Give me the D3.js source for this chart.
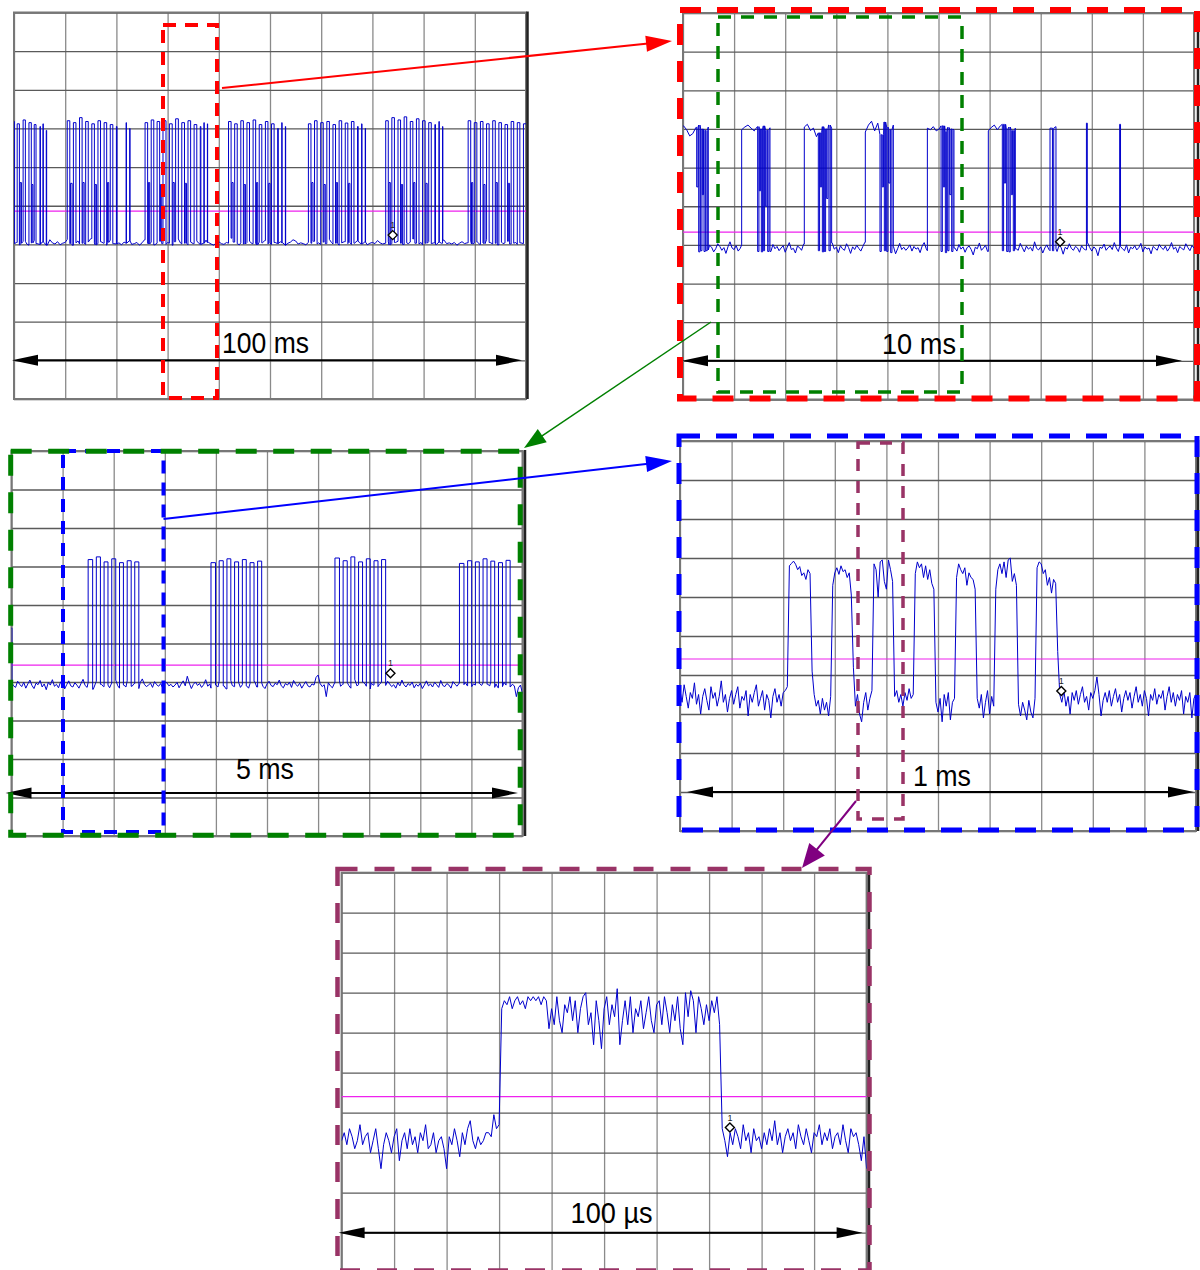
<!DOCTYPE html>
<html>
<head>
<meta charset="utf-8">
<script src="https://cdn.jsdelivr.net/npm/d3@7"></script>
<style>
  html, body { margin: 0; padding: 0; background: #fff; }
  svg { display: block; }
</style>
</head>
<body>
<svg id="chart" width="1200" height="1270"></svg>
<script>
// ---------------------------------------------------------------
// Scope captures of one burst train, zoomed five times.
// Vertical values are in screen divisions counted from the bottom.
// ---------------------------------------------------------------
const spanLabels = ["100 ms", "10 ms", "5 ms", "1 ms", "100 µs"];
const spanDurations = [100, 10, 5, 1000, 100];          // ms, ms, ms, µs, µs
const triggerLevels = [4.86, 4.33, 4.44, 4.41, 4.4];
const markerPoints = [[73.97, 4.24], [7.38, 4.08], [3.708, 4.23], [739, 3.59], [73.96, 3.63]];

// 100 ms capture: idle level (0.5 ms steps) and burst envelopes [start, end, top]
const p1Baseline = [
  4.02,4.05,3.99,4.03,4.08,4.01,3.98,4.04,4.10,4.02,
  4.00,4.06,4.03,3.98,4.12,4.04,4.01,4.07,3.99,4.03,
  4.05,4.13,4.02,3.98,4.04,4.09,4.01,4.03,4.00,4.06,
  4.15,4.04,3.99,4.02,4.07,4.03,3.98,4.05,4.11,4.02,
  4.01,4.04,3.99,4.06,4.03,4.09,4.00,4.02,4.05,3.98,
  4.04,4.12,4.03,4.01,4.06,3.99,4.03,4.08,4.02,4.00,
  4.05,4.03,3.98,4.07,4.14,4.04,4.01,4.03,3.99,4.06,
  4.02,4.09,4.04,4.00,4.03,4.11,4.05,4.01,3.98,4.04,
  4.07,4.02,4.00,4.05,4.03,4.16,4.06,4.02,3.99,4.04,
  4.01,4.05,4.08,4.02,4.03,3.99,4.06,4.04,4.10,4.01,
  4.03,4.00,4.05,4.02,4.07,4.04,3.98,4.03,4.06,4.12,
  4.09,4.01,4.04,4.02,3.99,4.05,4.03,4.08,4.01,4.04,
  4.00,4.06,4.02,4.13,4.05,4.01,4.03,3.98,4.04,4.07,
  4.02,4.05,4.00,4.03,4.09,4.04,4.01,4.06,3.99,4.03,
  4.05,4.02,4.10,4.04,4.01,4.03,4.07,3.99,4.02,4.05,
  4.08,4.03,4.00,4.04,4.02,4.06,4.14,4.03,4.01,4.05,
  3.99,4.03,4.07,4.02,4.04,4.00,4.06,4.03,4.11,4.02,
  4.04,4.01,4.05,3.98,4.03,4.07,4.02,4.04,4.09,4.01,
  4.03,4.06,4.00,4.04,4.02,4.12,4.05,4.01,4.03,3.99,
  4.06,4.02,4.04,4.08,4.01,4.03,4.05,4.00,4.04,4.02,
  4.03
];
const p1Bursts = [
  [-0.4,0.08,7.18],[0.62,1.05,7.12],[1.78,2.22,7.22],[2.92,3.38,7.15],[3.95,4.3,7.1],
  [5.08,5.16,7.05],[5.66,5.72,7.12],[6.3,6.38,6.95],
  [10.4,10.9,7.2],[11.6,12.1,7.15],[12.8,13.3,7.28],[14.0,14.5,7.18],[15.2,15.7,7.12],
  [16.4,16.9,7.2],[17.6,18.1,7.15],[18.8,19.3,7.1],[20.0,20.12,7.05],[21.9,21.96,7.15],[22.6,22.66,7.0],
  [25.6,26.1,7.15],[26.8,27.3,7.22],[27.95,28.45,7.18],[29.1,29.69,7.2],[30.35,30.9,7.12],
  [31.57,32.1,7.25],[32.77,33.3,7.15],[33.98,34.5,7.2],[35.18,35.7,7.1],[36.38,36.5,7.05],
  [37.1,37.15,7.15],[37.77,37.82,7.12],
  [41.9,42.4,7.18],[43.1,43.6,7.12],[44.3,44.8,7.2],[45.5,46.0,7.15],[46.7,47.2,7.22],
  [47.9,48.4,7.1],[49.1,49.6,7.18],[50.3,50.8,7.12],[51.5,51.62,7.0],[52.3,52.36,7.15],[53.0,53.06,7.05],
  [57.5,58.0,7.12],[58.7,59.2,7.2],[59.9,60.4,7.15],[61.1,61.6,7.18],[62.3,62.8,7.1],
  [63.5,64.0,7.2],[64.7,65.2,7.14],[65.9,66.4,7.18],[67.1,67.22,7.05],[67.9,67.96,7.12],[68.6,68.66,7.0],
  [72.6,73.1,7.2],[73.8,74.3,7.28],[75.0,75.5,7.22],[76.2,76.7,7.3],[77.4,77.9,7.18],
  [78.6,79.1,7.25],[79.8,80.3,7.2],[81.0,81.5,7.15],[82.2,82.32,7.1],[83.0,83.06,7.18],[83.7,83.76,7.05],
  [88.7,89.2,7.2],[89.9,90.4,7.15],[91.1,91.6,7.18],[92.3,92.8,7.12],[93.5,94.0,7.2],
  [94.7,95.2,7.15],[95.9,96.4,7.1],[97.1,97.6,7.18],[98.3,98.8,7.15],[99.5,100.4,7.12]
];
// partial steps that the 100 ms capture shows between bursts [start, end, level]
const p1MidSteps = [
  [1.2,1.45,5.6],[3.5,3.7,5.55],
  [11.05,11.35,5.58],[13.45,13.7,5.6],[15.85,16.1,5.55],[18.25,18.5,5.6],
  [26.25,26.5,5.6],[28.6,28.85,5.55],[31.05,31.3,5.6],[33.45,33.7,5.58],
  [42.55,42.8,5.6],[44.95,45.2,5.55],[47.35,47.6,5.6],[49.75,50.0,5.58],
  [58.15,58.4,5.6],[60.55,60.8,5.55],[62.95,63.2,5.6],[65.35,65.6,5.58],
  [73.25,73.5,5.6],[75.65,75.9,5.55],[78.05,78.3,5.6],[80.45,80.7,5.58],
  [89.35,89.6,5.6],[91.75,92.0,5.55],[94.15,94.4,5.6],[96.55,96.8,5.58]
];

// 10 ms capture: idle level (40 µs steps), bursts [start, end, plateau...], dropouts [time, level]
const p2Baseline = [
  3.92,3.88,3.95,4.02,3.9,3.85,3.97,3.93,3.8,3.96,
  4.05,3.91,3.87,3.99,3.94,3.82,3.9,4.03,3.96,3.86,
  3.93,3.78,3.95,4.08,3.92,3.88,3.98,3.84,3.91,4.0,
  3.87,3.94,3.8,3.97,3.9,4.04,3.86,3.92,3.75,3.95,
  3.99,3.89,3.93,3.83,4.01,3.9,3.96,3.85,3.92,3.98,
  3.81,3.94,4.06,3.88,3.91,3.79,3.97,3.93,3.86,4.02,
  3.9,3.84,3.95,3.99,3.88,3.76,3.93,4.0,3.91,3.87,
  3.96,3.82,3.92,4.05,3.89,3.94,3.8,3.98,3.9,3.86,
  4.03,3.93,3.78,3.95,3.88,3.99,3.91,3.84,3.96,4.07,
  3.89,3.92,3.85,3.97,3.81,3.94,3.9,4.02,3.87,3.93,
  3.98,3.83,3.91,3.95,3.77,3.9,4.04,3.88,3.94,3.86,
  3.92,4.0,3.84,3.96,3.89,3.93,3.8,3.97,4.06,3.9,
  3.85,3.94,3.99,3.82,3.91,3.88,4.03,3.93,3.79,3.96,
  3.9,3.86,3.98,3.92,3.84,4.01,3.89,3.95,3.81,3.93,
  3.97,3.88,3.74,3.94,3.9,4.05,3.86,3.92,3.99,3.83,
  3.91,3.96,3.87,4.02,3.8,3.93,3.89,3.95,3.85,4.0,
  3.92,3.78,3.96,3.9,3.86,4.04,3.93,3.82,3.97,3.89,
  3.94,3.84,4.08,3.91,3.87,3.95,3.79,3.92,4.0,3.88,
  3.85,3.97,3.9,3.83,3.99,3.93,3.76,3.94,3.89,4.03,
  3.91,3.86,3.96,3.92,3.81,3.98,3.9,3.87,4.05,3.93,
  3.84,3.95,3.89,3.72,3.94,3.91,4.02,3.86,3.93,3.97,
  3.88,4.06,3.92,3.83,3.96,3.9,3.85,4.0,3.79,3.94,
  3.9,3.98,3.87,3.93,4.04,3.82,3.95,3.89,3.92,3.77,
  3.96,3.91,3.86,4.01,3.93,3.88,3.97,3.84,3.92,4.06,
  3.89,3.94,3.8,3.96,3.91,3.87,4.03,3.93,3.85,3.98,
  3.92
];
const p2Bursts = [
  [-0.05,0.495, 7.02,7.08,6.98,6.82,6.88,7.04,7.1,7.0,6.96,7.05],
  [1.148,1.702, 6.98,7.05,7.1,7.02,6.95,7.06,7.0,7.08,6.97,7.03],
  [2.374,2.909, 7.05,7.12,6.96,7.02,6.8,6.9,7.06,7.0,7.1,7.02],
  [3.568,4.116, 6.92,7.1,7.2,6.95,7.15,6.85,7.18,7.05,6.98,7.1],
  [4.782,5.303, 7.02,6.98,7.06,6.95,7.0,7.08,6.93,7.04,7.0,6.97],
  [5.975,6.503, 6.95,7.04,7.1,6.98,7.08,7.12,7.0,7.05,6.96,7.02],
  [7.182,7.299, 7.02,7.06],
  [7.895,7.912, 7.15],
  [8.545,8.562, 7.12]
];
const p2Dips = [
  [0.268,5.5],[0.307,3.82],[0.346,3.85],[0.378,5.3],[0.411,3.83],[0.45,3.85],
  [1.461,3.83],[1.494,5.4],[1.533,3.82],[1.572,3.85],[1.617,5.0],[1.657,3.83],
  [2.648,3.85],[2.688,5.5],[2.727,3.82],[2.766,3.83],[2.811,5.2],[2.857,3.85],
  [3.855,3.83],[3.9,5.5],[3.94,3.85],[3.986,3.83],[4.025,5.6],[4.064,3.8],
  [5.05,3.83],[5.095,5.5],[5.134,3.8],[5.18,3.85],[5.219,5.3],[5.258,3.83],
  [6.249,3.85],[6.288,5.6],[6.334,3.83],[6.379,3.82],[6.425,5.3],[6.464,3.85],
  [7.23,3.85]
];
const p2DipWidth = 0.025;

// 5 ms capture: idle level (20 µs steps) and single pulses [rise, fall, top]
const p3Baseline = [
  3.98,3.9,3.86,4.02,3.94,3.88,3.99,3.84,3.95,4.05,
  3.91,3.83,3.97,3.93,4.04,3.87,3.95,3.8,3.99,3.92,
  4.06,3.89,3.94,3.85,4.0,3.96,3.82,3.93,4.03,3.9,
  3.87,3.98,3.92,3.84,3.96,4.07,3.91,3.86,3.99,3.93,
  3.81,3.95,4.02,3.89,3.94,3.88,4.0,3.92,3.85,3.97,
  3.93,4.05,3.9,3.84,3.98,3.92,3.87,4.03,3.95,3.89,
  3.96,3.91,3.83,3.99,4.08,3.94,3.88,3.92,3.97,3.86,
  4.01,3.93,3.89,3.96,3.84,4.0,3.98,3.9,3.94,3.87,
  3.92,3.99,3.85,3.95,4.03,3.9,4.15,3.97,3.83,3.94,
  4.0,3.91,3.96,3.86,3.93,4.06,3.89,3.95,3.84,3.98,
  3.92,3.87,4.02,3.94,3.9,3.82,3.97,4.04,3.91,3.88,
  3.95,3.99,3.86,3.93,4.08,3.9,3.84,3.96,3.92,4.01,
  3.87,3.94,3.98,3.89,3.83,3.95,4.02,3.91,3.88,3.97,
  3.93,4.05,3.9,3.85,3.96,3.92,3.99,3.86,4.04,3.94,
  3.89,3.97,3.84,3.93,4.01,3.9,3.87,3.95,3.92,4.12,
  4.18,3.96,3.88,3.93,3.62,3.98,3.9,3.85,3.97,3.92,
  4.03,3.89,3.94,3.86,3.99,3.91,3.84,3.96,4.06,3.9,
  3.93,3.87,4.0,3.95,3.89,3.82,3.97,3.92,4.04,3.88,
  3.94,3.99,3.86,3.91,4.02,3.95,3.88,3.93,3.84,3.98,
  3.9,4.05,3.93,3.87,3.96,3.91,4.0,3.85,3.94,3.89,
  3.97,3.83,3.92,4.03,3.9,3.95,3.87,3.99,3.93,3.86,
  4.04,3.91,3.88,3.96,3.92,3.84,4.01,3.94,3.89,3.97,
  3.85,3.93,3.99,3.9,4.07,3.88,3.95,3.92,3.83,3.96,
  3.91,3.98,3.87,3.94,3.9,4.02,3.86,3.95,3.85,3.93,
  3.88,3.99,3.92,4.03,3.87,3.94,3.9,3.62,3.85,3.92,
  3.7
];
const p3Pulses = [
  [-0.05,0.004,5.4],
  [0.750,0.794,7.18],[0.830,0.870,7.25],[0.906,0.944,7.12],[0.981,1.020,7.2],[1.057,1.095,7.1],[1.132,1.171,7.15],[1.206,1.246,7.12],
  [1.952,1.996,7.1],[2.032,2.072,7.15],[2.108,2.146,7.2],[2.183,2.222,7.12],[2.259,2.297,7.18],[2.334,2.373,7.1],[2.408,2.448,7.14],
  [3.165,3.209,7.22],[3.245,3.285,7.15],[3.321,3.359,7.25],[3.396,3.435,7.12],[3.472,3.510,7.2],[3.547,3.586,7.15],[3.621,3.661,7.18],
  [4.383,4.427,7.08],[4.463,4.503,7.15],[4.539,4.577,7.12],[4.614,4.653,7.2],[4.690,4.728,7.14],[4.765,4.804,7.1],[4.839,4.879,7.16]
];

// 1 ms capture, 4 µs per sample
const p4Samples = [
  3.6,3.3,3.75,3.45,3.15,3.55,3.4,3.8,3.25,3.5,
  3.0,3.45,3.65,3.35,3.1,3.7,3.4,3.55,3.2,3.45,
  3.85,3.3,3.5,3.05,3.4,3.6,3.25,3.5,3.7,3.15,
  3.45,3.35,3.6,2.95,3.5,3.3,3.55,3.75,3.2,3.4,
  3.6,3.1,3.5,3.35,2.9,3.45,3.65,3.3,3.5,3.2,
  3.55,3.6,3.7,
  6.8,6.86,6.92,6.84,6.7,6.78,6.55,6.62,6.45,6.7,6.6,
  4.1,
  3.5,3.2,3.35,3.0,3.4,3.1,3.3,2.95,3.45,
  6.3,6.62,6.75,6.58,6.8,6.65,6.7,6.5,6.62,6.05,
  4.2,
  3.2,3.5,3.0,2.8,3.3,3.55,3.1,3.4,3.6,
  6.85,6.7,6.0,6.9,6.95,6.4,6.2,6.95,6.7,6.4,
  3.45,3.6,3.3,3.5,3.2,3.55,3.35,3.65,3.4,3.5,
  6.6,6.9,6.75,6.85,6.5,6.8,6.45,6.7,6.35,6.2,
  3.3,3.05,3.4,2.8,3.5,3.2,3.55,2.85,3.3,3.4,
  6.5,6.85,6.7,6.6,6.75,6.3,6.62,6.5,6.45,6.2,
  3.4,3.15,3.5,2.9,3.3,3.6,3.0,3.45,3.2,
  6.2,6.7,6.85,6.6,6.9,6.5,6.95,7.0,6.4,6.6,6.3,
  3.25,2.95,3.3,3.1,2.85,3.35,3.05,2.9,3.4,
  6.75,6.9,6.85,6.6,6.7,6.3,6.5,6.1,6.45,6.35,
  4.6,
  3.5,3.3,3.6,3.2,3.45,3.0,3.55,3.35,3.6,3.25,
  3.5,3.7,3.3,3.45,3.1,3.55,3.4,3.6,3.95,3.5,
  2.95,3.35,3.55,3.3,3.6,3.2,3.45,3.65,3.3,3.5,
  3.05,3.4,3.6,3.35,3.55,3.15,3.45,3.7,3.3,3.5,
  3.2,3.6,3.4,2.95,3.5,3.35,3.65,3.25,3.5,3.4,
  3.6,3.1,3.45,3.7,3.3,3.55,3.2,3.5,3.35,3.6,
  3.0,3.45,3.3,3.55,2.9,3.4,3.5
];

// 100 µs capture, 0.5 µs per sample
const p5Samples = [
  3.3,3.5,3.2,3.6,3.4,3.1,3.3,3.7,3.2,3.4,
  3.5,3.0,3.3,3.6,3.1,2.6,3.2,3.5,3.3,3.0,
  3.4,3.6,2.8,3.3,3.5,3.1,3.6,3.2,3.4,3.0,
  3.5,3.3,3.7,3.1,3.2,3.5,3.0,3.3,3.4,3.1,
  2.6,3.4,3.2,3.6,3.3,2.9,3.5,3.2,3.6,3.8,
  3.3,3.1,3.4,3.2,3.3,3.5,3.5,3.4,3.95,3.6,
  3.7,
  6.6,6.8,6.7,6.9,6.6,6.8,6.9,6.7,6.8,6.6,6.9,6.8,6.9,6.8,6.9,6.7,6.9,6.8,
  6.1,6.6,6.2,6.9,6.3,6.0,6.7,6.5,6.9,6.3,
  6.8,6.0,6.6,6.9,7.0,6.2,6.5,5.7,6.8,6.3,
  5.6,6.6,6.9,6.2,6.7,6.4,7.1,5.7,6.3,6.8,
  6.2,6.9,6.0,6.6,6.4,6.8,6.1,6.5,6.9,6.3,
  6.0,6.7,6.8,6.2,6.9,6.5,6.0,6.7,6.3,6.9,
  6.1,5.7,7.0,6.4,7.05,6.8,6.0,6.9,6.6,6.2,
  6.7,6.3,6.8,6.5,6.9,
  6.2,3.6,
  3.3,2.9,3.5,3.2,3.6,3.4,3.1,3.7,3.3,3.5,
  3.0,3.6,3.3,3.4,3.1,3.5,3.2,3.6,3.3,3.8,
  3.2,3.5,3.0,3.4,3.6,3.3,3.5,3.1,3.7,3.4,
  3.2,3.6,3.3,3.0,3.5,3.4,3.7,3.2,3.5,3.3,
  3.6,3.1,3.4,3.5,3.2,3.7,3.3,3.0,3.6,3.4,
  3.5,3.2,2.8,3.4,2.6
];

// ---------------------------------------------------------------
// Page layout: screen rectangles, zoom windows and connectors
// ---------------------------------------------------------------
const layout = [
  { x: 14,    y: 12.5,  w: 512, h: 386.5, arrowShift: 0,    arrowPad: [-2, 4],   labelX: 208,   labelDy: -7,  labelW: 87, edgeX: 527.5 },
  { x: 683,   y: 13,    w: 511, h: 386.5, arrowShift: 0,    arrowPad: [-1, 12],  labelX: 199,   labelDy: -7,  labelW: 74, edgeX: 1198 },
  { x: 11.5,  y: 451,   w: 511, h: 385,   arrowShift: -4.5, arrowPad: [-6, 4.5], labelX: 224.5, labelDy: -14, labelW: 58, edgeX: 525 },
  { x: 680,   y: 441,   w: 516, h: 390,   arrowShift: 0,    arrowPad: [7, 2],    labelX: 233,   labelDy: -6,  labelW: 58, edgeX: 1198 },
  { x: 341.6, y: 872.7, w: 525, h: 400,   arrowShift: 0,    arrowPad: [-3, 4],   labelX: 229,   labelDy: -10, labelW: 82, edgeX: 869 }
];

const frames = [
  { x: 163,   y: 25,    w: 54,    h: 373,   color: "#ff0000", width: 4,   dash: "13 9" },
  { x: 718,   y: 17,    w: 244,   h: 375,   color: "#008000", width: 3.5, dash: "13 10" },
  { x: 680,   y: 10,    w: 517,   h: 388.5, color: "#ff0000", width: 6,   dash: "21 16" },
  { x: 63,    y: 451,   w: 100.5, h: 381,   color: "#0000ff", width: 4,   dash: "13 9" },
  { x: 10.7,  y: 451.3, w: 509.5, h: 384,   color: "#008000", width: 5,   dash: "21 16.5" },
  { x: 858,   y: 443,   w: 45,    h: 376,   color: "#993366", width: 3.5, dash: "12 10" },
  { x: 679,   y: 436,   w: 518,   h: 394,   color: "#0000ff", width: 5,   dash: "21 16" },
  { x: 337.5, y: 869,   w: 532,   h: 401.5, color: "#993366", width: 4.5, dash: "20 17" }
];

const connectors = [
  { from: [222, 88],    to: [672, 41],  color: "#ff0000", width: 2,   head: [26, 8] },
  { from: [711, 322],   to: [524, 448], color: "#008000", width: 1.5, head: [22, 8] },
  { from: [163.5, 519], to: [672, 461], color: "#0000ff", width: 2,   head: [26, 8] },
  { from: [856, 801],   to: [802, 868], color: "#800080", width: 2,   head: [24, 10] }
];

// ---------------------------------------------------------------
// Trace builders
// ---------------------------------------------------------------
function sampledPoints(values, duration) {
  const dt = duration / (values.length - 1);
  return values.map((v, i) => [i * dt, v]);
}

function nearestIndex(n, dt, t) {
  return Math.max(0, Math.min(n - 1, Math.round(t / dt)));
}

// Idle samples, with pulses laid over them; dips are short dropouts inside a pulse.
function pulsedPoints(base, duration, pulses, dips, dipWidth) {
  const n = base.length, dt = duration / (n - 1);
  const pts = [];
  let i = 0;
  const sorted = pulses.slice().sort((a, b) => a[0] - b[0]);
  for (const p of sorted) {
    const t0 = p[0], t1 = p[1], tops = p.slice(2);
    while (i < n && i * dt < t0) { pts.push([i * dt, base[i]]); i++; }
    pts.push([t0, base[nearestIndex(n, dt, t0)]]);
    const topPts = tops.length === 1
      ? [[t0, tops[0], 0], [t1, tops[0], 0]]
      : tops.map((v, k) => [t0 + k * (t1 - t0) / (tops.length - 1), v, 0]);
    const inside = dips.filter(d => d[0] > t0 && d[0] < t1);
    const seg = topPts.filter(q => !inside.some(d => q[0] >= d[0] && q[0] <= d[0] + dipWidth));
    for (const [td, lv] of inside) {
      const near = topPts.reduce((a, b) => Math.abs(b[0] - td) < Math.abs(a[0] - td) ? b : a);
      seg.push([td, near[1], 1], [td, lv, 2], [td + dipWidth, lv, 3], [td + dipWidth, near[1], 4]);
    }
    seg.sort((a, b) => (a[0] - b[0]) || (a[2] - b[2]));
    seg.forEach(q => pts.push([q[0], q[1]]));
    pts.push([t1, base[nearestIndex(n, dt, t1)]]);
    while (i < n && i * dt <= t1) i++;
  }
  while (i < n) { pts.push([i * dt, base[i]]); i++; }
  return pts;
}

const traces = [
  pulsedPoints(p1Baseline, spanDurations[0], p1Bursts.concat(p1MidSteps), [], 0),
  pulsedPoints(p2Baseline, spanDurations[1], p2Bursts, p2Dips, p2DipWidth),
  pulsedPoints(p3Baseline, spanDurations[2], p3Pulses, [], 0),
  sampledPoints(p4Samples, spanDurations[3]),
  sampledPoints(p5Samples, spanDurations[4])
];

// ---------------------------------------------------------------
// Drawing
// ---------------------------------------------------------------
const svg = d3.select("#chart");
svg.append("rect").attr("width", 1200).attr("height", 1270).attr("fill", "#fff");
const defs = svg.append("defs");

layout.forEach((P, i) => {
  const dur = spanDurations[i];
  const x = d3.scaleLinear().domain([0, dur]).range([P.x, P.x + P.w]);
  const y = d3.scaleLinear().domain([0, 10]).range([P.y + P.h, P.y]);
  const g = svg.append("g").attr("class", "screen");

  defs.append("clipPath").attr("id", "clip" + i)
    .append("rect").attr("x", P.x).attr("y", P.y).attr("width", P.w).attr("height", P.h);

  // graticule
  const gx = g.append("g").attr("transform", `translate(0,${P.y + P.h})`)
    .call(d3.axisBottom(x).tickValues(d3.range(11).map(k => k * dur / 10)).tickSize(-P.h).tickFormat(""));
  gx.select(".domain").remove();
  gx.selectAll(".tick line").attr("stroke", "#8a8a8a").attr("stroke-width", 1.3);

  const gy = g.append("g").attr("transform", `translate(${P.x},0)`)
    .call(d3.axisLeft(y).tickValues(d3.range(11)).tickSize(-P.w).tickFormat(""));
  gy.select(".domain").remove();
  gy.selectAll(".tick line").attr("stroke", "#5a5a5a").attr("stroke-width", 1.3);

  g.append("rect").attr("x", P.x).attr("y", P.y).attr("width", P.w).attr("height", P.h)
    .attr("fill", "none").attr("stroke", "#777").attr("stroke-width", 2);

  // dark right edge of the screen capture
  g.append("line").attr("x1", P.edgeX).attr("x2", P.edgeX).attr("y1", P.y - 1).attr("y2", Math.min(P.y + P.h, 1270))
    .attr("stroke", "#222").attr("stroke-width", 2.5);

  // trigger level
  g.append("line").attr("x1", P.x).attr("x2", P.x + P.w)
    .attr("y1", y(triggerLevels[i])).attr("y2", y(triggerLevels[i]))
    .attr("stroke", "#ee22ee").attr("stroke-width", 1.2);

  // signal
  const line = d3.line().x(d => x(d[0])).y(d => y(d[1]));
  g.append("path").datum(traces[i]).attr("clip-path", `url(#clip${i})`)
    .attr("d", line).attr("fill", "none").attr("stroke", "#0000cc").attr("stroke-width", 1)
    .attr("stroke-linejoin", "miter");

  // trigger marker
  const [mt, mv] = markerPoints[i];
  const mx = x(mt), my = y(mv);
  g.append("path").attr("d", `M${mx},${my - 4.5}L${mx + 4.5},${my}L${mx},${my + 4.5}L${mx - 4.5},${my}Z`)
    .attr("fill", "#fff").attr("stroke", "#000").attr("stroke-width", 1.4);
  g.append("text").attr("x", mx).attr("y", my - 7).attr("text-anchor", "middle")
    .attr("font-family", "Liberation Sans, Arial, sans-serif").attr("font-size", 9).attr("fill", "#222").text("1");

  // span arrow
  const ay = y(1) + P.arrowShift;
  const ax0 = x(0) + P.arrowPad[0], ax1 = x(dur) - P.arrowPad[1];
  g.append("line").attr("x1", ax0 + 10).attr("x2", ax1 - 10).attr("y1", ay).attr("y2", ay)
    .attr("stroke", "#000").attr("stroke-width", 2);
  g.append("path").attr("d", `M${ax0},${ay}L${ax0 + 26},${ay - 5.5}L${ax0 + 26},${ay + 5.5}Z`).attr("fill", "#000");
  g.append("path").attr("d", `M${ax1},${ay}L${ax1 - 26},${ay - 5.5}L${ax1 - 26},${ay + 5.5}Z`).attr("fill", "#000");

  g.append("text").attr("x", P.x + P.labelX).attr("y", y(1) + P.arrowShift + P.labelDy)
    .attr("font-family", "Liberation Sans, Arial, sans-serif").attr("font-size", 30)
    .attr("textLength", P.labelW).attr("lengthAdjust", "spacingAndGlyphs")
    .attr("fill", "#000").text(spanLabels[i]);
});

// zoom windows
svg.append("g").selectAll("rect").data(frames).join("rect")
  .attr("x", d => d.x).attr("y", d => d.y).attr("width", d => d.w).attr("height", d => d.h)
  .attr("fill", "none").attr("stroke", d => d.color).attr("stroke-width", d => d.width)
  .attr("stroke-dasharray", d => d.dash);

// connectors between a window and its enlargement
const cg = svg.append("g");
connectors.forEach(c => {
  const [x0, y0] = c.from, [x1, y1] = c.to;
  const len = Math.hypot(x1 - x0, y1 - y0);
  const ux = (x1 - x0) / len, uy = (y1 - y0) / len;
  const [hl, hw] = c.head;
  const bx = x1 - ux * hl, by = y1 - uy * hl;
  cg.append("line").attr("x1", x0).attr("y1", y0).attr("x2", bx + ux * 2).attr("y2", by + uy * 2)
    .attr("stroke", c.color).attr("stroke-width", c.width);
  cg.append("path")
    .attr("d", `M${x1},${y1}L${bx - uy * hw},${by + ux * hw}L${bx + uy * hw},${by - ux * hw}Z`)
    .attr("fill", c.color);
});
</script>
</body>
</html>
